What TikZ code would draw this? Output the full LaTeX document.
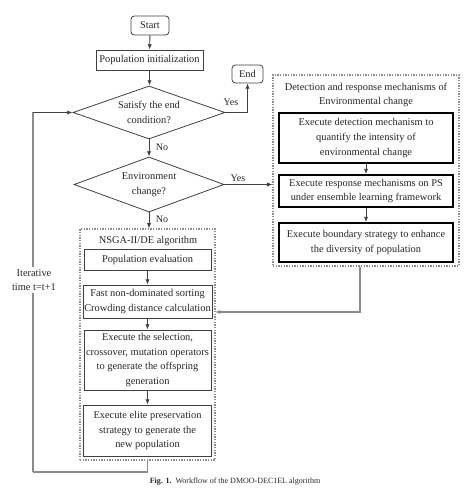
\documentclass[tikz,border=0pt]{standalone}
\usepackage{fontspec}
\setmainfont{Liberation Serif}
\usetikzlibrary{shapes.geometric,arrows.meta}
\def\px{0.75pt}
\begin{document}
\begin{tikzpicture}[x=0.75pt,y=-0.75pt,
  every node/.style={font=\fontsize{7.8}{10.9}\selectfont, align=center, inner sep=0pt, text=black!85},
  proc/.style={draw=black!75, line width=0.6pt},
  thickbox/.style={draw=black, line width=1.3pt},
  term/.style={draw=black!75, line width=0.6pt, rounded corners=2.5pt},
  decide/.style={draw=black!75, line width=0.6pt, diamond, aspect=2.85},
  group/.style={draw=black!45, line width=0.8pt, dash pattern=on 1pt off 1pt},
  conn/.style={draw=black!75, line width=0.7pt, -{Latex[length=4pt,width=3.2pt]}},
  gconn/.style={draw=black!45, line width=0.8pt, -{Latex[length=4pt,width=3.2pt]}},
  gline/.style={draw=black!45, line width=0.8pt},
  lbl/.style={font=\fontsize{7.5}{9}\selectfont}
]
\useasboundingbox (0,0) rectangle (474,488);
% groups
\node[group, minimum width=186*\px, minimum height=191*\px] (rgrp) at (366,170.5) {};
\node[group, minimum width=135*\px, minimum height=231*\px] (nsga) at (147.5,344.5) {};
% main column
\node[term, minimum width=38*\px, minimum height=19*\px] (start) at (150,25.5) {Start};
\node[proc, minimum width=107*\px, minimum height=20*\px] (init) at (149.5,60) {Population initialization};
\node[decide, minimum width=152*\px, minimum height=53*\px] (d1) at (149,112.5) {Satisfy the end\\condition?};
\node[term, minimum width=31*\px, minimum height=18*\px] (end) at (247.5,74) {End};
\node[decide, minimum width=150*\px, minimum height=55*\px] (d2) at (149,184.5) {Environment\\change?};
% right group
\node (rtitle) at (366,95) {Detection and response mechanisms of\\Environmental change};
\node[thickbox, minimum width=174*\px, minimum height=50*\px] (det) at (366,138) {Execute detection mechanism to\\quantify the intensity of\\environmental change};
\node[thickbox, minimum width=174*\px, minimum height=32*\px] (resp) at (366,191) {Execute response mechanisms on PS\\under ensemble learning framework};
\node[thickbox, minimum width=174*\px, minimum height=39*\px] (bnd) at (366,242.5) {Execute boundary strategy to enhance\\the diversity of population};
% NSGA group
\node (ntitle) at (148,241) {NSGA-II/DE algorithm};
\node[proc, minimum width=127*\px, minimum height=21*\px] (eval) at (147.5,259.5) {Population evaluation};
\node[proc, minimum width=129*\px, minimum height=33*\px] (fast) at (147.5,301.5) {Fast non-dominated sorting\\Crowding distance calculation};
\node[proc, minimum width=127*\px, minimum height=60*\px] (sel) at (147.5,360) {Execute the selection,\\crossover, mutation operators\\to generate the offspring\\generation};
\node[proc, minimum width=128*\px, minimum height=51*\px] (elite) at (147.5,430.5) {Execute elite preservation\\strategy to generate the\\new population};
% connectors
\draw[conn] (start) -- (init);
\draw[conn] (init.south) -- (init.south |- d1.north);
\draw[conn] (d1.east) -| (end.south);
\node[lbl] (yes1) at (231,102) {Yes};
\draw[conn] (d1.south) -- (d2.north);
\node[lbl] (no1) at (162,147) {No};
\draw[conn] (d2.east) -- (d2.east -| rgrp.west);
\node[lbl] (yes2) at (238,178) {Yes};
\draw[conn] (d2.south) -- (d2.south |- nsga.north);
\node[lbl] (no2) at (162,219) {No};
\draw[conn] (det.south) -- (resp.north);
\draw[conn] (resp.south) -- (bnd.north);
\draw[conn] (eval.south) -- (fast.north);
\draw[conn] (fast.south) -- (sel.north);
\draw[conn] (sel.south) -- (elite.north);
\coordinate (rin) at (215,312);
\draw[gconn] ([xshift=-6*\px]rgrp.south) |- (rin);
\coordinate (lb) at (33,472);
\draw[gline] (nsga.south) |- (lb);
\draw[gline] (lb) -- (lb |- d1.west);
\draw[conn] (lb |- d1.west) -- (d1.west);
\node[fill=white, inner ysep=2pt] (iter) at (34,280) {Iterative\\time t=t+1};
% caption
\node[font=\fontsize{6}{7}\selectfont] (cap) at (235,482) {\textbf{Fig. 1.}\ \ Workflow of the DMOO-DEC1EL algorithm};
\end{tikzpicture}
\end{document}
